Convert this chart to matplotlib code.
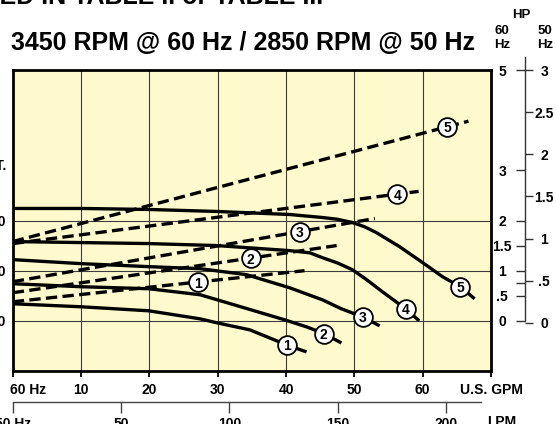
import numpy as np
import matplotlib
matplotlib.use("Agg")
import matplotlib.pyplot as plt
from matplotlib.transforms import ScaledTranslation

plt.rcParams['font.family'] = ['Liberation Sans', 'DejaVu Sans']
plt.rcParams['font.weight'] = 'bold'

W, H = 556, 424  # figure size in pixels

# head curves at 60 Hz: flow [US GPM], head [ft]
gpm1 = [0, 10, 19.9, 27.4, 29.9, 34.7, 40.1, 43.0]
head1 = [26.8, 25.6, 24.0, 20.8, 19.2, 16.4, 10.4, 7.6]
gpm2 = [0, 10, 19.9, 27.4, 29.9, 39.8, 43.0, 45.3, 48.1]
head2 = [34.8, 33.6, 32.8, 30.4, 28.4, 20.4, 17.6, 15.2, 11.2]
gpm3 = [0, 10, 19.9, 27.4, 34.2, 40.5, 45.3, 48.1, 51.2, 53.7]
head3 = [44.4, 42.8, 41.6, 40.8, 38.4, 33.2, 28.4, 24.8, 21.6, 18.0]
gpm4 = [0, 10, 19.9, 29.9, 40.5, 43.5, 45.3, 47.5, 49.7, 51.8, 54.1, 57.3, 59.5]
head4 = [51.6, 51.2, 50.8, 50.0, 48.0, 47.1, 45.2, 43.1, 40.4, 36.4, 31.6, 25.2, 20.0]
gpm5 = [0, 10, 19.9, 29.9, 40.5, 45.3, 47.5, 49.7, 51.5, 53.2, 56.6, 60.0, 62.9, 65.5, 67.6]
head5 = [64.8, 64.8, 64.4, 63.6, 62.4, 61.2, 60.5, 59.2, 57.5, 55.2, 49.6, 43.2, 37.6, 33.6, 28.8]
head_gpm = [gpm1, gpm2, gpm3, gpm4, gpm5]
head_ft = [head1, head2, head3, head4, head5]
head_badge_gpm = [40.1, 45.5, 51.2, 57.5, 65.5]

# horsepower lines at 60 Hz (straight, start at 0 GPM)
hp_end_gpm = [42.7, 47.4, 53.0, 59.4, 66.7]
hp_start = [0.38, 0.56, 0.78, 1.54, 1.58]
hp_end = [1.0, 1.5, 2.04, 2.58, 3.98]
hp_badge_gpm = [27.1, 34.8, 42.0, 56.3, 63.6]

# axis ticks
gpm_ticks = [0, 10, 20, 30, 40, 50, 60, 70]
gpm_labels = ['60 Hz', '10', '20', '30', '40', '50', '60', 'U.S. GPM']
head_ticks = [20, 40, 60]
head_labels = ['20', '40', '60']
lpm_ticks = [0, 50, 100, 150, 200]
lpm_labels = ['50 Hz', '50', '100', '150', '200']
hp60_ticks = [0, 0.5, 0.75, 1, 1.5, 2, 3, 5]
hp60_labels = ['0', '.5', '', '1', '1.5', '2', '3', '5']
hp50_ticks = [0, 0.5, 1, 1.5, 2, 2.5, 3]
hp50_labels = ['0', '.5', '1', '1.5', '2', '2.5', '3']

HP50_SCALE = 1.755     # 50 Hz HP scale relative to 60 Hz scale
FREQ_RATIO = 1.2       # 60 Hz / 50 Hz
L_PER_GAL = 3.785

BG = '#fffacd'
GRID = '#3c3c3c'
FS = 10


def px(x, y):
    return x / W, 1 - y / H


fig = plt.figure(figsize=(W / 100, H / 100), dpi=100)
L, B = 12.8 / W, (H - 371) / H
AW, AH = (491 - 12.8) / W, (371 - 70) / H

ax = fig.add_axes([L, B, AW, AH])
ax.set_facecolor(BG)
ax.set_axisbelow(True)
ax.grid(True, color=GRID, lw=0.8)
for s in ax.spines.values():
    s.set_linewidth(2.0)
    s.set_color('black')

for g, h in zip(head_gpm, head_ft):
    ax.plot(g, h, color='black', lw=2.4, solid_capstyle='butt',
            solid_joinstyle='round', zorder=3)

ax.set_xlim(0, 70)
ax.set_ylim(0, 120)
ax.set_xticks(gpm_ticks, gpm_labels)
ax.set_yticks(head_ticks, head_labels)
ax.tick_params(axis='x', direction='out', length=4.5, width=1.3, pad=4, labelsize=FS)
ax.tick_params(axis='y', length=0, pad=5, labelsize=FS)
xl = ax.get_xticklabels()
xl[0].set_ha('left')
xl[0].set_transform(xl[0].get_transform() + ScaledTranslation(-3 / 100, 0, fig.dpi_scale_trans))

# HP lines on a twin scale: 0 HP on the first grid line, 1 HP per grid
tw = ax.twinx()
tw.set_axis_off()
for e, a, b in zip(hp_end_gpm, hp_start, hp_end):
    tw.plot([0, e], [a, b], color='black', lw=2.4, dashes=(3.4, 1.6),
            dash_capstyle='butt', zorder=3)
tw.set_ylim(-1, 5)
tw.set_xlim(0, 70)


def badge(x, y, n, trans):
    tw.plot([x], [y], 'o', ms=13.5, mfc='white', mec='black', mew=1.3,
            zorder=5, transform=trans)
    tw.text(x, y, str(n), ha='center', va='center_baseline', fontsize=FS,
            fontweight='bold', zorder=6, transform=trans)


for i, (g, h) in enumerate(zip(head_gpm, head_ft)):
    bx = head_badge_gpm[i]
    badge(bx, np.interp(bx, g, h), i + 1, ax.transData)
for i in range(5):
    bx = hp_badge_gpm[i]
    by = np.interp(bx, [0, hp_end_gpm[i]], [hp_start[i], hp_end[i]])
    badge(bx, by, i + 1, tw.transData)

# HP scale on the right
axh = fig.add_axes([525 / W, B, 1e-4, AH])
axh.patch.set_visible(False)
for k in ['top', 'right', 'bottom']:
    axh.spines[k].set_visible(False)
axh.spines['left'].set_color('#333333')
axh.spines['left'].set_linewidth(1.0)
axh.set_ylim(-1, 5)
axh.spines['left'].set_bounds(0, 3 * HP50_SCALE)
axh.set_xticks([])
axh.set_yticks(hp60_ticks, hp60_labels)
axh.tick_params(axis='y', direction='out', length=6.5, width=1, color='#333333',
                pad=10, labelsize=FS)
for t in axh.get_yticklabels():
    t.set_ha('center')

axr = axh.twinx()
axr.patch.set_visible(False)
for s in axr.spines.values():
    s.set_visible(False)
axr.set_ylim(-1 / HP50_SCALE, 5 / HP50_SCALE)
axr.set_xticks([])
axr.set_yticks(hp50_ticks, hp50_labels)
axr.tick_params(axis='y', direction='out', length=5.8, width=1, color='#333333',
                pad=8, labelsize=FS)
for t in axr.get_yticklabels():
    t.set_ha('center')

# LPM scale at 50 Hz
axl = fig.add_axes([L, (H - 402) / H, AW, 1e-4])
axl.patch.set_visible(False)
for k in ['top', 'right', 'left']:
    axl.spines[k].set_visible(False)
axl.set_xlim(0, 70 / FREQ_RATIO * L_PER_GAL)
axl.spines['bottom'].set_bounds(0, 216)
axl.spines['bottom'].set_color('#444444')
axl.spines['bottom'].set_linewidth(1.0)
axl.set_yticks([])
axl.set_xticks(lpm_ticks, lpm_labels)
axl.tick_params(axis='x', direction='out', length=8, width=1, color='#444444',
                pad=2.5, labelsize=FS)
fig.text(*px(502, 429), 'LPM', ha='center', va='bottom', fontsize=FS)

# texts
fig.text(*px(323, 4), 'PUMPS LISTED IN TABLE II or TABLE III', ha='right',
         va='baseline', fontsize=18)
fig.text(*px(11, 50), '3450 RPM @ 60 Hz / 2850 RPM @ 50 Hz', ha='left',
         va='baseline', fontsize=18)
fig.text(*px(521, 15), 'HP', ha='center', va='center', fontsize=9.5)
fig.text(*px(502, 31), '60', ha='center', va='center', fontsize=9.5)
fig.text(*px(502, 45), 'Hz', ha='center', va='center', fontsize=9.5)
fig.text(*px(545, 31), '50', ha='center', va='center', fontsize=9.5)
fig.text(*px(545, 45), 'Hz', ha='center', va='center', fontsize=9.5)
fig.text(*px(6.5, 166), 'FT.', ha='right', va='center', fontsize=FS)

fig.savefig('out.png', dpi=100)
